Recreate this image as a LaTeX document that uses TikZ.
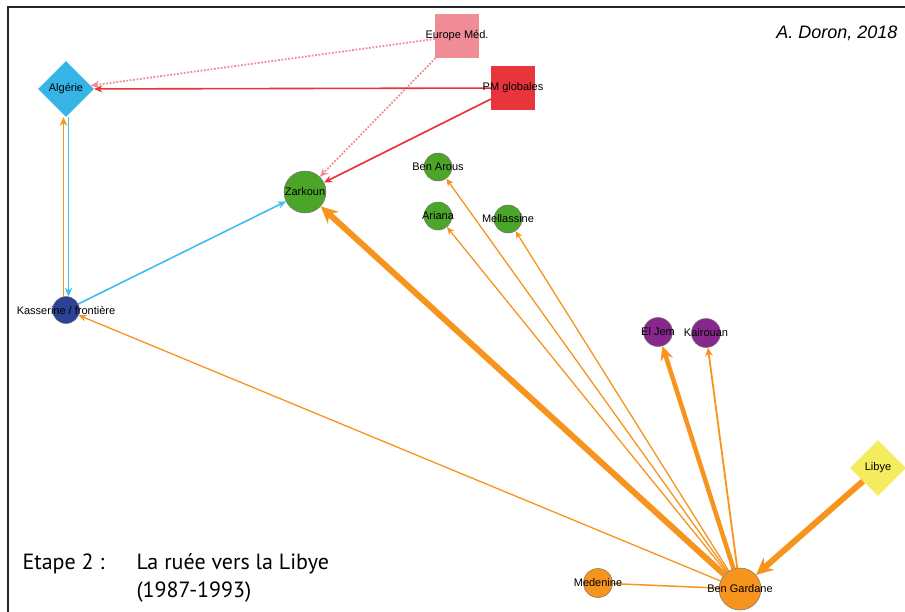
\documentclass[tikz,border=0pt]{standalone}
\usepackage{fontspec}
\setmainfont{Liberation Sans}
\newfontfamily\etapefont{PT Sans}
\usetikzlibrary{shapes.geometric,backgrounds,arrows.meta}

\definecolor{flux}{RGB}{247,148,29}
\definecolor{ciel}{RGB}{55,180,230}
\definecolor{fluxciel}{RGB}{60,190,240}
\definecolor{bleunuit}{RGB}{45,65,150}
\definecolor{vert}{RGB}{75,165,40}
\definecolor{violet}{RGB}{135,40,140}
\definecolor{jaune}{RGB}{245,235,95}
\definecolor{rouge}{RGB}{232,52,58}
\definecolor{rose}{RGB}{240,140,150}

\begin{document}
\begin{tikzpicture}[x=1pt,y=-1pt,
    ville/.style={circle,draw=black!55,line width=0.5pt,minimum size=#1,inner sep=0pt},
    pays/.style={diamond,minimum size=56pt,inner sep=0pt},
    carre/.style={rectangle,minimum size=44pt,inner sep=0pt},
    every label/.style={font=\fontsize{11}{13}\selectfont,inner sep=0pt},
    lien/.style={flux,line width=#1,-{Stealth[length=5pt 2,width=4pt 2]}},
    titre/.style={anchor=base west,font=\etapefont\fontsize{22}{26}\selectfont}]
    \useasboundingbox (0,0) rectangle (905,611);

    %pays et sources
    \node[pays,fill=ciel,label={center:Algérie}] (algerie) at (66,89) {};
    \node[pays,fill=jaune,label={center:Libye}] (libye) at (878,468) {};
    \node[carre,fill=rose,label={center:Europe Méd.}] (europe) at (457,36) {};
    \node[carre,fill=rouge,label={center:PM globales}] (pmglobales) at (513,88) {};

    %villes
    \node[ville=42,fill=vert,label={center:Zarkoun}] (zarkoun) at (305,192) {};
    \node[ville=28,fill=vert,label={center:Ben Arous}] (benarous) at (438,167) {};
    \node[ville=28,fill=vert,label={center:Ariana}] (ariana) at (438,216) {};
    \node[ville=28,fill=vert,label={center:Mellassine}] (mellassine) at (508,219) {};
    \node[ville=27,fill=bleunuit,label={center:Kasserine / frontière}] (kasserine) at (66,310) {};
    \node[ville=29,fill=violet,label={center:El Jem}] (eljem) at (658,332) {};
    \node[ville=29,fill=violet,label={center:Kairouan}] (kairouan) at (706,333) {};
    \node[ville=42,fill=flux,label={center:Ben Gardane}] (bengardane) at (740,589) {};
    \node[ville=29,fill=flux,label={center:Medenine}] (medenine) at (598,583) {};

    %textes
    \node[anchor=base east,font=\itshape\fontsize{18}{20}\selectfont] (auteur) at (901,38) {A. Doron, 2018};
    \node[titre] (etape) at (19,569) {Etape 2 :};
    \node[titre] (ruee) at (133,569) {La ruée vers la Libye};
    \node[titre] (dates) at (133,597) {(1987-1993)};

    \begin{scope}[on background layer]
    \draw[black!85,line width=2pt] (8,625) -- (8,7) -- (915,7);

    %flux
    \draw[lien=1.8pt,rose,dash pattern=on 1.8pt off 1.6pt] (europe) -- (algerie);
    \draw[lien=1.8pt,rose,dash pattern=on 1.8pt off 1.6pt] (europe) -- (zarkoun);
    \draw[lien=1.6pt,rouge] (pmglobales) -- (algerie);
    \draw[lien=1.6pt,rouge] (pmglobales) -- (zarkoun);
    \draw[lien=1.8pt] ([xshift=-2.5pt]kasserine.north) -- ([xshift=-2.5pt]algerie.south);
    \draw[lien=1.8pt,fluxciel] ([xshift=2.5pt]algerie.south) -- ([xshift=2.5pt]kasserine.north);
    \draw[lien=1.6pt,fluxciel] (kasserine) -- (zarkoun);
    \draw[lien=1.3pt] (bengardane) -- (kasserine);
    \draw[lien=6pt] (bengardane) -- (zarkoun);
    \draw[lien=1.3pt] (bengardane) -- (benarous);
    \draw[lien=1.3pt] (bengardane) -- (ariana);
    \draw[lien=1.3pt] (bengardane) -- (mellassine);
    \draw[lien=4.5pt] (bengardane) -- (eljem);
    \draw[lien=1.8pt] (bengardane) -- (kairouan);
    \draw[lien=6pt] (libye) -- (bengardane);
    \draw[flux,line width=1.5pt] (bengardane) -- (medenine);
    \end{scope}
\end{tikzpicture}
\end{document}
